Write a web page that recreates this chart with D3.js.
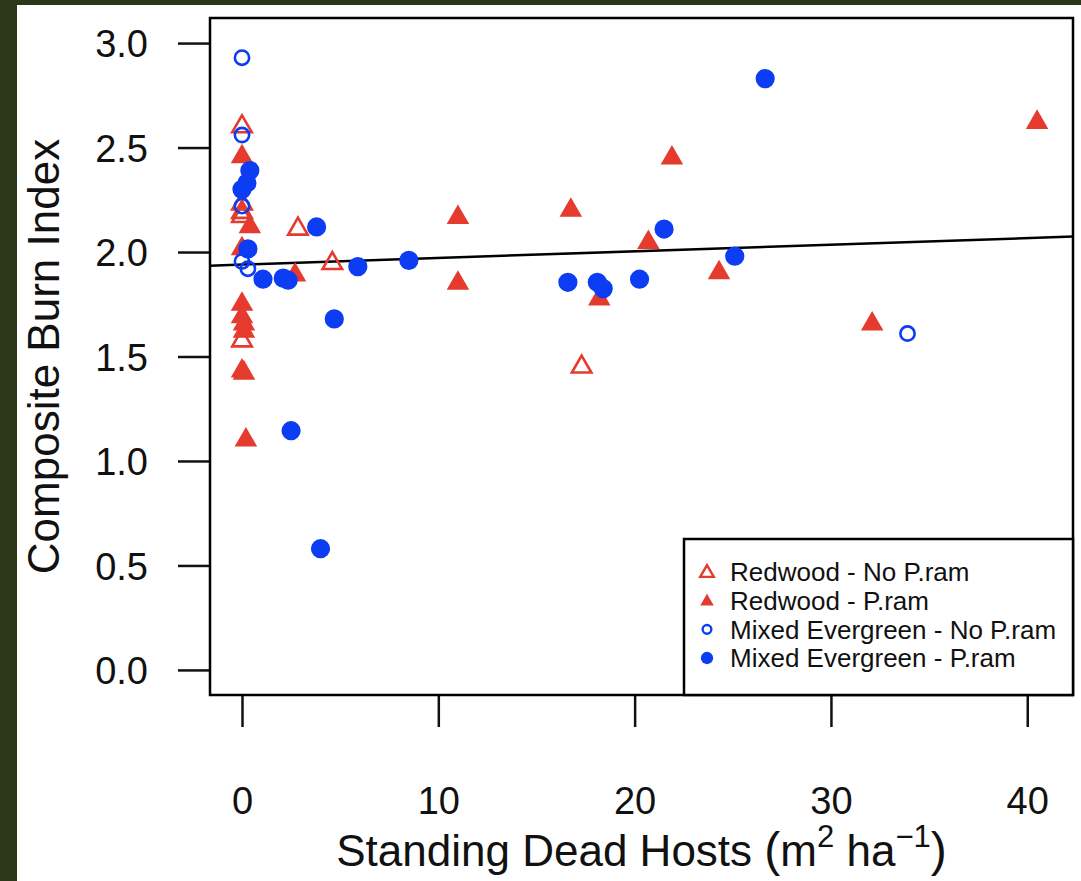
<!DOCTYPE html>
<html>
<head>
<meta charset="utf-8">
<script src="https://cdn.jsdelivr.net/npm/d3@7"></script>
<style>
  body { margin: 0; background: #2c3719; }
  svg { display: block; }
  text { font-family: "Liberation Sans", Arial, sans-serif; fill: #111; }
</style>
</head>
<body>
<svg id="plot" width="1081" height="881"></svg>
<script>
// data: [standing dead hosts, composite burn index]
const redwoodNoPram = [
  [0, 2.61], [0, 2.24], [0, 2.2], [0, 2.18], [2.85, 2.12], [4.6, 1.955],
  [0, 1.585], [17.3, 1.46]
];
const redwoodPram = [
  [0, 2.465], [0.4, 2.13], [0, 2.025], [2.7, 1.9], [0, 1.76], [0, 1.7],
  [0.1, 1.665], [0.1, 1.63], [0, 1.44], [0.1, 1.43], [0.2, 1.11],
  [11, 2.175], [11, 1.86], [16.75, 2.21], [18.2, 1.785], [20.7, 2.055],
  [21.9, 2.46], [24.3, 1.91], [32.1, 1.665], [40.5, 2.63]
];
const mixedNoPram = [
  [0, 2.93], [0, 2.56], [0, 2.22], [0, 1.955], [0.3, 1.92], [33.9, 1.61]
];
const mixedPram = [
  [0.4, 2.39], [0.25, 2.33], [0, 2.3], [0.3, 2.015], [3.8, 2.12], [5.9, 1.93],
  [1.07, 1.87], [2.1, 1.875], [2.35, 1.865], [4.7, 1.68], [2.5, 1.145],
  [4.0, 0.58], [8.5, 1.96], [16.6, 1.855], [18.1, 1.855], [18.4, 1.825],
  [20.25, 1.87], [21.5, 2.11], [25.1, 1.98], [26.65, 2.83]
];
const fit = { intercept: 1.94, slope: 0.00316 };
const xTicks = [0, 10, 20, 30, 40];
const yTicks = [0, 0.5, 1, 1.5, 2, 2.5, 3];
const legendLabels = [
  "Redwood - No P.ram", "Redwood - P.ram",
  "Mixed Evergreen - No P.ram", "Mixed Evergreen - P.ram"
];

const red = "#e53a2e";
const blue = "#0c3df2";

const svg = d3.select("#plot");
// white page inside the dark frame
svg.append("rect").attr("x", 17).attr("y", 5).attr("width", 1064).attr("height", 876).attr("fill", "#fff");

const box = { left: 210, top: 18, right: 1073, bottom: 695 };

// R-style 4% extension of the data ranges
const xScale = d3.scaleLinear().domain([-1.63, 42.33]).range([box.left, box.right]);
const yScale = d3.scaleLinear().domain([-0.12, 3.12]).range([box.bottom, box.top]);

const plot = svg.append("g");
plot.append("clipPath").attr("id", "clip")
  .append("rect").attr("x", box.left).attr("y", box.top)
  .attr("width", box.right - box.left).attr("height", box.bottom - box.top);

// axes
const yAxis = d3.axisLeft(yScale).tickValues(yTicks).tickFormat(d3.format(".1f"))
  .tickSize(32).tickPadding(30);
svg.append("g").attr("transform", `translate(${box.left},0)`).call(yAxis)
  .call(g => g.select(".domain").remove())
  .call(g => g.selectAll("line").attr("stroke", "#111").attr("stroke-width", 2.5))
  .call(g => g.selectAll("text").style("font-size", "38px").style("fill", "#111")
    .attr("dy", "0.36em"));

const xAxis = d3.axisBottom(xScale).tickValues(xTicks).tickFormat(d3.format("d"))
  .tickSize(32).tickPadding(60);
svg.append("g").attr("transform", `translate(0,${box.bottom})`).call(xAxis)
  .call(g => g.select(".domain").remove())
  .call(g => g.selectAll("line").attr("stroke", "#111").attr("stroke-width", 2.5))
  .call(g => g.selectAll("text").style("font-size", "38px").style("fill", "#111"));

// regression line
plot.append("line").attr("clip-path", "url(#clip)")
  .attr("x1", xScale(-1.63)).attr("y1", yScale(fit.intercept + fit.slope * -1.63))
  .attr("x2", xScale(42.33)).attr("y2", yScale(fit.intercept + fit.slope * 42.33))
  .attr("stroke", "#000").attr("stroke-width", 2.5);

// points
const tri = d3.symbol().type(d3.symbolTriangle);
const drawSeries = (data, kind, filled) => {
  const g = plot.append("g");
  const sel = g.selectAll("path").data(data).enter().append("path")
    .attr("transform", d => `translate(${xScale(d[0])},${yScale(d[1])})`);
  if (kind === "tri") {
    sel.attr("d", tri.size(filled ? 220 : 165)());
    sel.attr("transform", d => `translate(${xScale(d[0])},${yScale(d[1]) + 2})`);
  } else {
    sel.attr("d", d3.symbol().type(d3.symbolCircle).size(filled ? 290 : 160)());
  }
  const color = kind === "tri" ? red : blue;
  if (filled) sel.attr("fill", color);
  else sel.attr("fill", "none").attr("stroke", color).attr("stroke-width", 2.6);
};
drawSeries(redwoodNoPram, "tri", false);
drawSeries(redwoodPram, "tri", true);
drawSeries(mixedNoPram, "circle", false);
drawSeries(mixedPram, "circle", true);

// box
svg.append("rect").attr("x", box.left).attr("y", box.top)
  .attr("width", box.right - box.left).attr("height", box.bottom - box.top)
  .attr("fill", "none").attr("stroke", "#000").attr("stroke-width", 2.5);

// axis titles
svg.append("text").attr("transform", `translate(59,${(box.top + box.bottom) / 2}) rotate(-90)`)
  .attr("text-anchor", "middle").style("font-size", "44px").text("Composite Burn Index");

const xt = svg.append("text").attr("x", (box.left + box.right) / 2).attr("y", 866)
  .attr("text-anchor", "middle").style("font-size", "44px");
xt.append("tspan").text("Standing Dead Hosts ");
xt.append("tspan").style("font-size", "48px").text("(");
xt.append("tspan").text("m");
xt.append("tspan").style("font-size", "31px").attr("dy", -19).text("2");
xt.append("tspan").attr("dy", 19).text(" ha");
xt.append("tspan").style("font-size", "31px").attr("dy", -19).text("\u22121");
xt.append("tspan").attr("dy", 19).style("font-size", "48px").text(")");

// legend
const lg = svg.append("g");
lg.append("rect").attr("x", 684).attr("y", 539).attr("width", 389).attr("height", 156)
  .attr("fill", "#fff").attr("stroke", "#000").attr("stroke-width", 2.5);
const rowY = d3.scalePoint().domain(legendLabels).range([572, 658]);
legendLabels.forEach((label, i) => {
  const y = rowY(label);
  const s = lg.append("path").attr("transform", `translate(707,${y + (i < 2 ? 1 : 0)})`);
  if (i < 2) s.attr("d", tri.size(80)());
  else s.attr("d", d3.symbol().type(d3.symbolCircle).size(i === 3 ? 120 : 60)());
  const color = i < 2 ? red : blue;
  if (i % 2 === 1) s.attr("fill", color);
  else s.attr("fill", "none").attr("stroke", color).attr("stroke-width", 2.4);
  lg.append("text").attr("x", 730).attr("y", y).attr("dy", "0.36em")
    .style("font-size", "26px").text(label);
});
</script>
</body>
</html>
